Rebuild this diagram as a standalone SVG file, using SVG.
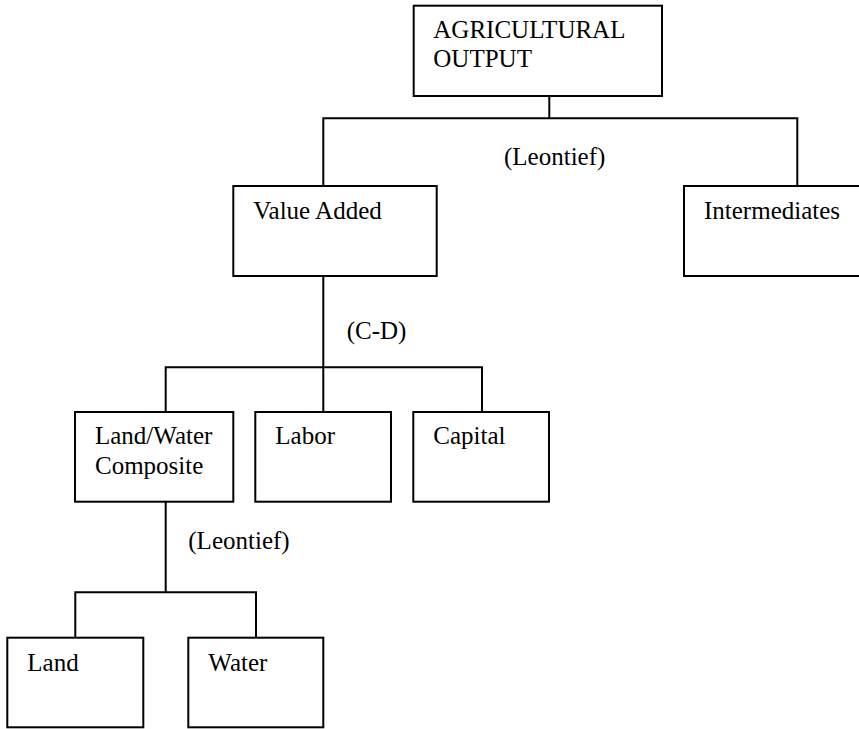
<svg xmlns="http://www.w3.org/2000/svg" width="859" height="729" viewBox="0 0 859 729">
<style>
.box{fill:#fff;stroke:#000;stroke-width:2}
.ln{fill:none;stroke:#000;stroke-width:2}
text{font-family:"Liberation Serif","Times New Roman",serif;font-size:25px;fill:#000}
</style>
<rect width="859" height="729" fill="#fff"/>
<g id="connectors">
<polyline class="ln" points="549.3,96 549.3,118.3"/>
<polyline class="ln" points="323.3,186 323.3,118.3 797.3,118.3 797.3,186"/>
<polyline class="ln" points="323.3,276 323.3,412"/>
<polyline class="ln" points="165.7,412 165.7,367.3 482,367.3 482,412"/>
<polyline class="ln" points="165.7,501.7 165.7,592.3"/>
<polyline class="ln" points="75.3,637.7 75.3,592.3 256,592.3 256,637.7"/>
<text x="504" y="165">(Leontief)</text>
<text x="346.7" y="339.3">(C-D)</text>
<text x="188.3" y="549.3">(Leontief)</text>
</g>
<g id="agricultural-output">
<rect class="box" x="413.7" y="5.7" width="248.3" height="90.3"/>
<text x="433.3" y="37.7">AGRICULTURAL</text>
<text x="433.3" y="66.7">OUTPUT</text>
</g>
<g id="value-added">
<rect class="box" x="233.3" y="186" width="203.4" height="90"/>
<text x="253.3" y="219.3">Value Added</text>
</g>
<g id="intermediates">
<rect class="box" x="684" y="186" width="227" height="90"/>
<text x="704" y="219.3">Intermediates</text>
</g>
<g id="land-water-composite">
<rect class="box" x="75" y="412" width="158.3" height="89.7"/>
<text x="95" y="444.3">Land/Water</text>
<text x="95" y="474.3">Composite</text>
</g>
<g id="labor">
<rect class="box" x="255.3" y="412" width="135.7" height="89.7"/>
<text x="275.3" y="444.3">Labor</text>
</g>
<g id="capital">
<rect class="box" x="413.3" y="412" width="135.7" height="89.7"/>
<text x="433.3" y="444.3">Capital</text>
</g>
<g id="land">
<rect class="box" x="7.3" y="637.7" width="136" height="89.6"/>
<text x="27.3" y="671">Land</text>
</g>
<g id="water">
<rect class="box" x="188.3" y="637.7" width="135" height="89.6"/>
<text x="208.3" y="671">Water</text>
</g>
</svg>
